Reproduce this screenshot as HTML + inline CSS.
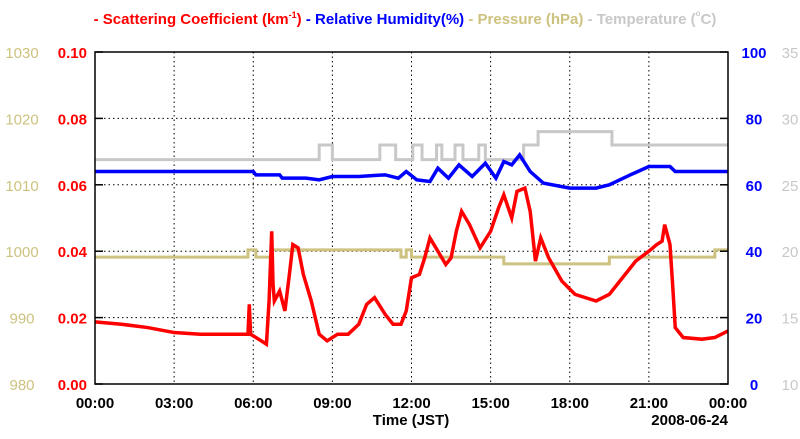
<!DOCTYPE html>
<html><head><meta charset="utf-8"><style>
body{margin:0;background:#fff}
svg{font-family:"Liberation Sans",sans-serif;font-weight:bold}
</style></head><body>
<svg id="c" width="800" height="434">
<text x="405" y="24" text-anchor="middle" font-size="15"><tspan fill="#f00">- Scattering Coefficient (km<tspan font-size="9" dy="-6">-1</tspan><tspan dy="6">)</tspan></tspan><tspan fill="#00f"> - Relative Humidity(%)</tspan><tspan fill="#cdc27f"> - Pressure (hPa)</tspan><tspan fill="#c8c8c8"> - Temperature (<tspan font-size="8" dy="-8">o</tspan><tspan dy="8">C)</tspan></tspan></text>
<g id="grid"></g><g id="series"></g><g id="axes"></g>
</svg>
<script>
const timeScat=[0,1,2,3,4,5,5.8,5.85,5.9,6,6.5,6.6,6.7,6.75,6.8,7.0,7.2,7.4,7.5,7.7,7.9,8.2,8.5,8.8,9.2,9.6,10.0,10.3,10.6,11.0,11.3,11.6,11.8,12.0,12.3,12.5,12.7,13.0,13.3,13.5,13.7,13.9,14.2,14.6,15.0,15.3,15.5,15.8,16.0,16.3,16.5,16.7,16.9,17.2,17.7,18.2,19.0,19.5,20.0,20.5,21.0,21.3,21.5,21.6,21.8,21.9,22.0,22.3,23.0,23.5,24];
const scat=[0.0187,0.018,0.017,0.0155,0.015,0.015,0.015,0.024,0.015,0.0145,0.012,0.025,0.046,0.03,0.025,0.028,0.022,0.035,0.042,0.041,0.033,0.025,0.015,0.013,0.015,0.015,0.018,0.024,0.026,0.021,0.018,0.018,0.022,0.032,0.033,0.038,0.044,0.040,0.036,0.038,0.046,0.052,0.048,0.041,0.046,0.053,0.057,0.050,0.058,0.059,0.052,0.037,0.044,0.038,0.031,0.027,0.025,0.027,0.032,0.037,0.040,0.042,0.043,0.048,0.042,0.030,0.017,0.014,0.0135,0.014,0.016];
const timeRH=[0,6,6.1,7,7.1,8,8.5,9,10,11,11.5,11.8,12.2,12.7,13.0,13.4,13.8,14.3,14.8,15.2,15.5,15.8,16.1,16.5,17,18,19,19.5,20.3,21,21.8,22,24];
const rh=[64,64,63,63,62,62,61.5,62.5,62.5,63,62,64,61.5,61,65,62,66,62.5,66.5,62,67,66,69,64,60.5,59,59,60,63,65.5,65.5,64,64];
const timeP=[0,5.8,6.1,6.7,11.6,11.8,12.0,15.5,19.5,23.5,24];
const pres=[999.1,1000.2,999.1,1000.2,999.1,1000.2,999.1,998.1,999.1,1000.2,1000.2];
const timeT=[0,8.5,9.0,10.8,11.4,12.05,12.4,12.95,13.15,13.65,13.95,14.55,14.8,16.25,16.8,19.6,24];
const temp=[26.9,28,26.9,28,26.9,28,26.9,28,26.9,28,26.9,28,26.9,28,29,28,28];
const xTicks=["00:00","03:00","06:00","09:00","12:00","15:00","18:00","21:00","00:00"];
const scatTicks=["0.00","0.02","0.04","0.06","0.08","0.10"];
const presTicks=["980","990","1000","1010","1020","1030"];
const rhTicks=["0","20","40","60","80","100"];
const tempTicks=["10","15","20","25","30","35"];

const X0=95,X1=728,Y0=384,Y1=52;
const x=h=>X0+(X1-X0)*h/24;
const yS=v=>Y0-(Y0-Y1)*v/0.1;
const yR=v=>Y0-(Y0-Y1)*v/100;
const yP=v=>Y0-(Y0-Y1)*(v-980)/50;
const yT=v=>Y0-(Y0-Y1)*(v-10)/25;
const NS="http://www.w3.org/2000/svg";
function mk(tag,parent,attrs){const e=document.createElementNS(NS,tag);for(const k in attrs)e.setAttribute(k,attrs[k]);parent.appendChild(e);return e;}
const grid=document.getElementById('grid'),ser=document.getElementById('series'),ax=document.getElementById('axes');
for(let i=1;i<8;i++){const l=mk('line',grid,{x1:x(i*3),x2:x(i*3),y1:Y1,y2:Y0,stroke:'#000','stroke-dasharray':'1.5,3'});

}
for(let i=1;i<5;i++){const v=i*0.02;const l=mk('line',grid,{x1:X0,x2:X1,y1:yS(v),y2:yS(v),stroke:'#000','stroke-dasharray':'1.5,3'});

}
function stepPts(t,v,fy){let p=[];for(let i=0;i<t.length;i++){if(i>0)p.push(x(t[i])+','+fy(v[i-1]));p.push(x(t[i])+','+fy(v[i]));}return p.join(' ');}
const tl=mk('polyline',ser,{points:stepPts(timeT,temp,yT),fill:'none',stroke:'#c8c8c8','stroke-width':3});


const pl=mk('polyline',ser,{points:stepPts(timeP,pres,yP),fill:'none',stroke:'#cdc27f','stroke-width':3});


const rl=mk('polyline',ser,{points:timeRH.map((h,i)=>x(h)+','+yR(rh[i])).join(' '),fill:'none',stroke:'#00f','stroke-width':3.5});


const sl=mk('polyline',ser,{points:timeScat.map((h,i)=>x(h)+','+yS(scat[i])).join(' '),fill:'none',stroke:'#f00','stroke-width':3.5});


const fr=mk('rect',ax,{x:X0,y:Y1,width:X1-X0,height:Y0-Y1,fill:'none',stroke:'#000','stroke-width':1.5});


for(let i=0;i<6;i++){const yy=Y0-(Y0-Y1)*i/5;
mk('line',ax,{x1:X0,x2:X0+8,y1:yy,y2:yy,stroke:'#000','stroke-width':1.5});
mk('line',ax,{x1:X1-8,x2:X1,y1:yy,y2:yy,stroke:'#000','stroke-width':1.5});
const a=mk('text',ax,{x:22,y:yy+6,'text-anchor':'middle','font-size':15,fill:'#cdc27f','font-weight':'normal'});a.textContent=presTicks[i];


const b=mk('text',ax,{x:87,y:yy+6,'text-anchor':'end','font-size':15,fill:'#f00'});b.textContent=scatTicks[i];


const c=mk('text',ax,{x:754,y:yy+6,'text-anchor':'middle','font-size':15,fill:'#00f'});c.textContent=rhTicks[i];


const d=mk('text',ax,{x:790,y:yy+6,'text-anchor':'middle','font-size':15,fill:'#c8c8c8','font-weight':'normal'});d.textContent=tempTicks[i];

}
xTicks.forEach((s,i)=>{const t=mk('text',ax,{x:x(i*3),y:408,'text-anchor':'middle','font-size':15,fill:'#000'});t.textContent=s;

});
const xt=mk('text',ax,{x:411,y:425,'text-anchor':'middle','font-size':15});xt.textContent='Time (JST)';


const dt=mk('text',ax,{x:728,y:425,'text-anchor':'end','font-size':15});dt.textContent='2008-06-24';


</script>
</body></html>
